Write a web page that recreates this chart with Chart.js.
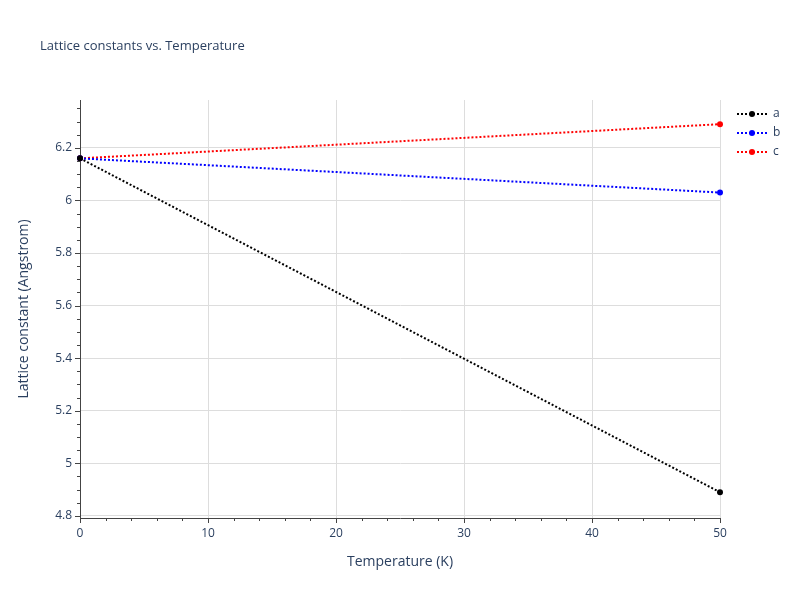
<!DOCTYPE html>
<html>
<head>
<script src="https://cdn.jsdelivr.net/npm/chart.js@4"></script>
<style>body{margin:0;background:#fff}</style>
</head>
<body>
<canvas id="c" width="800" height="600" style="width:800px;height:600px"></canvas>
<script>
const temps = [0, 50];
const seriesA = [6.16, 4.89];
const seriesB = [6.16, 6.03];
const seriesC = [6.16, 6.29];
const names = ["a", "b", "c"];
const colors = ["#000000", "#0000ff", "#ff0000"];

const ctx = document.getElementById("c").getContext("2d");
const font = "'Open Sans', sans-serif";

const extras = {
  id: "extras",
  afterDraw(chart) {
    const g = chart.ctx, x = chart.scales.x, y = chart.scales.y;
    g.save();
    g.fillStyle = "#2a3f5f";
    g.font = "13px " + font;
    g.textBaseline = "middle";
    g.fillText("Lattice constants vs. Temperature", 40, 46);
    // minor ticks
    g.strokeStyle = "#444";
    g.lineWidth = 1;
    for (let v = 0; v <= 50; v += 2) {
      const px = Math.round(x.getPixelForValue(v)) + 0.5;
      const len = v % 10 === 0 ? 5 : 3;
      g.beginPath(); g.moveTo(px, y.bottom); g.lineTo(px, y.bottom + len); g.stroke();
    }
    for (let v = 4.8; v <= 6.38; v += 0.05) {
      const py = Math.round(y.getPixelForValue(v)) + 0.5;
      const len = Math.abs(v * 5 - Math.round(v * 5)) < 0.01 ? 5 : 3;
      g.beginPath(); g.moveTo(x.left, py); g.lineTo(x.left - len, py); g.stroke();
    }
    // legend
    chart.data.datasets.forEach((d, i) => {
      const ly = 114 + i * 19;
      g.strokeStyle = d.borderColor; g.lineWidth = 2; g.setLineDash([2, 2]);
      g.beginPath(); g.moveTo(737, ly); g.lineTo(767, ly); g.stroke();
      g.setLineDash([]);
      g.fillStyle = d.borderColor;
      g.beginPath(); g.arc(752, ly, 3, 0, Math.PI * 2); g.fill();
      g.fillStyle = "#2a3f5f"; g.font = "12px " + font;
      g.fillText(d.label, 773, ly);
    });
    g.restore();
  }
};

const mk = (vals, i) => ({
  label: names[i],
  data: temps.map((t, k) => ({ x: t, y: vals[k] })),
  borderColor: colors[i],
  backgroundColor: colors[i],
  borderWidth: 2,
  borderDash: [2, 2],
  pointRadius: 3,
  pointBorderWidth: 0,
  tension: 0
});

new Chart(ctx, {
  type: "line",
  data: { datasets: [mk(seriesA, 0), mk(seriesB, 1), mk(seriesC, 2)] },
  options: {
    responsive: false,
    animation: false,
    clip: false,
    layout: { padding: { top: 100, right: 80, left: 12, bottom: 26 } },
    plugins: { legend: { display: false }, tooltip: { enabled: false } },
    scales: {
      x: {
        type: "linear", min: 0, max: 50,
        afterFit(s) { s.height = 56; },
        border: { color: "#444" },
        grid: { color: "#ddd", drawTicks: false },
        ticks: { stepSize: 10, color: "#2a3f5f", font: { family: font, size: 12 }, padding: 8 },
        title: { display: true, text: "Temperature (K)", color: "#2a3f5f", font: { family: font, size: 14 }, padding: { top: 10 } }
      },
      y: {
        min: 4.792, max: 6.382,
        afterFit(s) { s.width = 68; },
        afterBuildTicks(s) {
          const t = [];
          for (let v = 4.8; v <= 6.39; v += 0.2) t.push({ value: Math.round(v * 10) / 10 });
          s.ticks = t;
        },
        border: { color: "#444" },
        grid: { color: "#ddd", drawTicks: false },
        ticks: { color: "#2a3f5f", font: { family: font, size: 12 }, padding: 8,
          callback: v => String(Math.round(v * 10) / 10) },
        title: { display: true, text: "Lattice constant (Angstrom)", color: "#2a3f5f", font: { family: font, size: 14 }, padding: { bottom: 4 } }
      }
    }
  },
  plugins: [extras]
});
</script>
</body>
</html>
